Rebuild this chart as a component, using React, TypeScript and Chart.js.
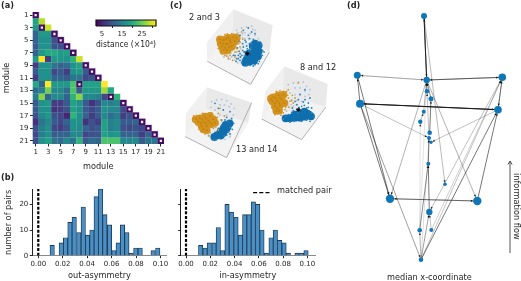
import React, { useEffect, useRef } from "react";
import { Chart, registerables } from "chart.js";

Chart.register(...registerables);
Chart.defaults.font.family = "'DejaVu Sans'";
Chart.defaults.color = "#262626";

/* ---------- (a) distance matrix, lower triangle, ×10^4 ---------- */
const heatRows: number[][] = [
  [1],
  [16, 25],
  [15, 1, 26],
  [9, 15, 15, 1],
  [9, 14, 14, 7, 1],
  [8, 14, 14, 7, 7, 1],
  [9, 15, 17, 17, 15, 16, 1],
  [15, 29, 5, 15, 15, 14, 18, 26],
  [5, 14, 14, 11, 9, 10, 14, 16, 1],
  [8, 14, 14, 6, 8, 5, 14, 15, 8, 1],
  [5, 14, 14, 9, 9, 8, 11, 11, 6, 7, 1],
  [17, 9, 29, 15, 15, 15, 20, 1, 16, 16, 16, 29],
  [10, 12, 22, 13, 13, 10, 20, 8, 15, 15, 15, 24, 17],
  [12, 23, 9, 13, 13, 9, 18, 23, 13, 13, 12, 6, 1, 18],
  [8, 14, 15, 5, 5, 8, 16, 14, 8, 4, 7, 13, 12, 13, 1],
  [8, 14, 14, 4, 5, 7, 16, 14, 8, 6, 8, 14, 13, 13, 6, 1],
  [7, 13, 15, 7, 6, 3, 18, 14, 9, 5, 8, 13, 10, 12, 5, 7, 1],
  [4, 11, 13, 8, 6, 9, 14, 14, 4, 7, 5, 16, 12, 13, 8, 8, 9, 1],
  [7, 12, 14, 6, 5, 7, 14, 13, 9, 7, 8, 16, 12, 13, 7, 6, 7, 6, 1],
  [6, 12, 14, 8, 9, 9, 13, 13, 6, 7, 7, 16, 14, 15, 9, 9, 9, 5, 9, 1],
  [7, 14, 16, 11, 10, 13, 11, 18, 8, 10, 9, 20, 20, 20, 13, 13, 13, 8, 11, 11, 1],
];
const matchedCols = [1, 2, 4, 5, 6, 7, 9, 10, 11, 8, 13, 15, 16, 17, 18, 19, 20, 21];
const matchedRows = [1, 3, 4, 5, 6, 7, 9, 10, 11, 12, 14, 15, 16, 17, 18, 19, 20, 21];
const moduleTicks = [1, 3, 5, 7, 9, 11, 13, 15, 17, 19, 21];
const colorbarTicks = [5, 15, 25];
const colorbarSteps = [2.5, 3.5, 4.5, 5.5, 6.5, 7.5, 8.5, 9.5, 10.5, 11.5, 12.5, 13.5, 14.5, 15.5, 16.5, 17.5, 18.5, 19.5, 20.5, 21.5, 22.5, 23.5, 24.5, 25.5, 26.5, 27.5, 28.5, 29.5, 30.5, 31.5];

/* ---------- (b) histograms ---------- */
const outBins = [0.0114, 0.0188, 0.0223, 0.0259, 0.0294, 0.0332, 0.0368, 0.0403, 0.0439, 0.0474, 0.051, 0.0545, 0.0583, 0.0619, 0.0654, 0.0689, 0.0725, 0.076, 0.0798, 0.0834, 0.094, 0.0978];
const outCounts = [4, 5, 7, 13, 15, 9, 19, 8, 10, 23, 26, 16, 12, 2, 5, 12, 9, 1, 3, 3, 2, 3];
const inBins = [0.0121, 0.0157, 0.0192, 0.0231, 0.0266, 0.0302, 0.0338, 0.0374, 0.0412, 0.0448, 0.0484, 0.0519, 0.0555, 0.0591, 0.0626, 0.0662, 0.0701, 0.0736, 0.0772, 0.0808, 0.0843, 0.0915, 0.0953, 0.0989];
const inCounts = [4, 3, 5, 5, 11, 2, 20, 17, 15, 8, 16, 16, 21, 20, 10, 1, 7, 10, 6, 5, 1, 1, 1, 2];
const asymTicks = [0, 0.02, 0.04, 0.06, 0.08, 0.1];
const countTicks = [0, 10, 20];

/* ---------- (c) embedded point clouds, picture units ---------- */
const cube1 = {
  label: "2 and 3",
  left: [100, 22, 20, 122, 22, 178, 96, 92],
  right: [100, 22, 218, 70, 208, 150, 96, 92],
  floor: [96, 92, 208, 150, 152, 247, 22, 178],
  edge: [22, 178, 152, 247, 208, 150],
  haze: [125, 85, 145, 85, 160, 95, 115, 105, 135, 105, 150, 105, 95, 140, 110, 145, 125, 155, 105, 165, 90, 160, 130, 130, 75, 155, 120, 178],
  grey: [110, 85, 125, 78, 140, 75, 155, 72, 165, 85, 150, 95, 135, 92, 120, 100, 105, 120, 118, 125, 135, 110, 150, 110, 165, 100, 175, 110, 95, 145, 110, 150, 122, 140, 130, 160, 118, 165, 105, 175, 95, 165, 85, 165, 125, 178, 140, 170, 100, 130, 128, 95, 145, 125, 80, 155, 115, 92, 158, 82, 108, 135, 90, 172, 72, 165, 112, 182, 128, 108],
  blueCore: [168, 135, 176, 148, 174, 163, 162, 176, 148, 179, 160, 155, 165, 125, 150, 165, 140, 172, 176, 130, 136, 182, 165, 145, 155, 170, 168, 165, 158, 132, 146, 155],
  blueDots: [150, 125, 140, 132, 128, 145, 120, 155, 115, 170, 128, 172, 125, 182, 148, 110, 160, 112, 172, 118, 183, 128, 188, 145, 187, 160, 178, 178, 165, 188, 150, 190, 135, 160, 142, 140, 135, 115, 120, 100, 130, 85, 145, 78, 155, 90, 118, 118, 128, 125, 112, 138, 105, 160, 132, 150, 118, 148, 138, 120, 152, 137, 108, 178, 145, 100, 165, 95, 145, 150, 125, 160, 155, 125, 180, 120, 192, 150, 175, 185, 160, 192, 140, 190, 115, 160, 122, 165, 110, 170, 100, 160, 135, 150, 148, 143, 120, 175, 130, 135],
  orangeCore: [70, 115, 85, 108, 100, 106, 62, 124, 78, 125, 92, 121, 75, 138, 88, 135, 105, 118, 66, 133, 60, 112, 110, 108, 96, 133, 82, 145, 70, 146, 77, 112, 90, 114, 85, 126, 70, 125],
  orangeDots: [52, 118, 60, 105, 75, 98, 95, 95, 110, 96, 116, 108, 113, 125, 100, 135, 60, 145, 75, 150, 85, 150, 96, 145, 65, 155, 90, 160, 105, 150, 120, 135, 75, 160, 98, 175, 125, 90, 105, 165, 54, 130, 82, 96, 110, 140, 85, 170, 128, 112, 70, 150, 120, 120, 108, 128, 55, 140, 92, 152, 115, 148, 80, 162],
  star: [142, 155],
};
const cube2 = {
  label: "8 and 12",
  left: [88, 25, 32, 98, 20, 183, 82, 105],
  right: [88, 25, 218, 78, 212, 148, 82, 105],
  floor: [82, 105, 212, 148, 140, 245, 20, 183],
  edge: [20, 183, 140, 245, 212, 148],
  haze: [105, 85, 125, 80, 145, 85, 160, 100, 115, 105, 135, 105, 150, 120, 105, 125, 125, 125, 100, 150, 140, 130, 115, 145],
  grey: [100, 80, 115, 75, 130, 72, 145, 72, 155, 85, 165, 95, 150, 100, 135, 90, 120, 90, 105, 105, 120, 110, 135, 108, 150, 115, 162, 110, 110, 125, 125, 128, 140, 130, 100, 145, 115, 145, 95, 160, 110, 160, 128, 140, 92, 130, 108, 140, 80, 172, 96, 172],
  blueCore: [105, 181, 120, 179, 135, 179, 150, 176, 162, 170, 148, 161, 135, 166, 92, 181, 168, 175, 120, 170, 112, 178, 128, 174, 142, 172, 156, 166],
  blueDots: [85, 183, 92, 175, 110, 165, 125, 155, 140, 145, 155, 150, 170, 165, 176, 176, 118, 190, 140, 190, 155, 186, 150, 125, 165, 120, 130, 125, 120, 130, 160, 135, 145, 132, 112, 150, 100, 170, 135, 110, 150, 95, 128, 165, 115, 158, 132, 148, 148, 142, 160, 148, 170, 150, 125, 140, 105, 192, 165, 190],
  orangeCore: [55, 118, 70, 112, 52, 130, 66, 128, 80, 125, 60, 145, 75, 142, 72, 158, 85, 110, 48, 122, 88, 135, 64, 158, 62, 120, 75, 120, 60, 135, 72, 135, 68, 150],
  orangeDots: [42, 120, 45, 135, 50, 148, 60, 170, 78, 172, 92, 148, 100, 120, 105, 130, 90, 155, 95, 100, 110, 128, 130, 75, 100, 95, 90, 125, 85, 165, 98, 112, 64, 100, 45, 112, 102, 148, 120, 120, 112, 112, 75, 98, 98, 138, 115, 135],
  star: [130, 155],
};
const cube3 = {
  label: "13 and 14",
  left: [65, 22, 3, 100, 1, 170, 62, 88],
  right: [65, 22, 200, 68, 190, 128, 62, 88],
  floor: [62, 88, 190, 128, 125, 233, 1, 170],
  edge: [1, 170, 125, 233, 200, 68],
  haze: [95, 75, 115, 70, 130, 85, 140, 105, 110, 100, 125, 115, 95, 110, 85, 150, 100, 135, 130, 165, 75, 165],
  grey: [80, 65, 95, 60, 110, 58, 125, 62, 138, 72, 148, 85, 145, 105, 132, 80, 118, 75, 105, 75, 90, 90, 105, 105, 125, 105, 140, 118, 95, 125, 110, 125, 85, 140, 90, 155, 145, 130, 70, 165, 135, 170, 120, 178, 78, 82, 110, 178, 82, 178],
  blueCore: [122, 135, 115, 146, 106, 156, 96, 166, 124, 148, 134, 130, 88, 171, 108, 166, 115, 158, 128, 140],
  blueDots: [130, 125, 135, 142, 130, 155, 142, 148, 100, 145, 85, 178, 118, 168, 125, 165, 135, 162, 90, 70, 100, 85, 115, 90, 135, 95, 110, 120, 120, 120, 105, 176, 95, 178, 110, 135, 140, 115, 125, 112, 146, 130],
  orangeCore: [45, 115, 60, 110, 75, 108, 40, 125, 55, 125, 70, 122, 85, 118, 50, 138, 65, 138, 80, 132, 65, 150, 32, 118, 90, 128, 55, 148, 52, 118, 65, 116, 48, 130, 62, 130, 75, 128],
  orangeDots: [26, 108, 28, 122, 35, 135, 42, 148, 60, 162, 85, 145, 97, 112, 100, 100, 98, 130, 105, 85, 75, 158, 35, 106, 80, 98, 52, 100, 100, 150, 72, 168, 118, 108, 92, 142, 108, 120],
  star: [],
};

/* ---------- (d) network, reference pixels ---------- */
const nodeX = [424, 357.3, 426.7, 502.3, 427, 431, 360, 498, 423.7, 420.3, 429.7, 429, 431, 428.3, 445, 390, 477.3, 429.3, 419.7, 431.3, 421];
const nodeY = [16, 75.3, 80, 77.3, 91.3, 98.7, 103.7, 109.7, 111.7, 121.7, 132.7, 138, 142.3, 163.7, 184.3, 198.7, 201, 212, 230.3, 230, 259.7];
const nodeSize = [3, 3.5, 3.2, 3.8, 2.3, 2.5, 4, 3.8, 2, 2.2, 2.3, 2, 1.7, 2, 1.8, 4.2, 4.2, 3.2, 2.3, 2, 2.3];
const edgeFrom = [3, 1, 3, 4, 7, 8, 7, 2, 3, 2, 7, 16, 17, 8, 4, 17, 21, 21, 4, 7, 3, 3, 1, 7, 8, 19, 19, 19, 18, 14, 21, 20, 11, 5, 6, 10, 9, 21, 20, 21, 12];
const edgeTo = [1, 3, 4, 3, 8, 7, 2, 3, 2, 16, 16, 17, 16, 4, 8, 8, 8, 4, 18, 21, 16, 17, 15, 12, 13, 3, 10, 14, 14, 12, 18, 18, 6, 3, 3, 9, 3, 19, 4, 12, 5];
const edgeWeight = [0.9, 0.9, 0.7, 0.4, 1, 1, 0.7, 0.25, 0.2, 0.7, 0.7, 0.6, 0.4, 0.6, 0.4, 0.7, 0.7, 0.3, 0.3, 0.5, 0.4, 0.4, 0.35, 0.3, 0.3, 0.05, 0.05, 0.6, 0.7, 0.7, 0.5, 0.3, 0.7, 0.7, 0.6, 0.4, 0.4, 0.4, 0.2, 0.1, 0.3];
const flowArrowX = [510, 510];
const flowArrowY = [253, 161];
const flowHeadX = [508, 510, 512];
const flowHeadY = [164.5, 161, 164.5];

/* ---------- helpers ---------- */
const VIRIDIS = ["#440154", "#482475", "#414487", "#355f8d", "#2a788e", "#21918c", "#22a884", "#44bf70", "#7ad151", "#bddf26", "#fde725"];
function viridis(t: number) {
  const c = Math.max(0, Math.min(1, t)) * (VIRIDIS.length - 1);
  const i = Math.min(Math.floor(c), VIRIDIS.length - 2);
  const f = c - i;
  const p = (h: string, k: number) => parseInt(h.slice(1 + k * 2, 3 + k * 2), 16);
  const mix = [0, 1, 2].map((k) => Math.round(p(VIRIDIS[i], k) * (1 - f) + p(VIRIDIS[i + 1], k) * f));
  return `rgb(${mix.join(",")})`;
}
const pairs = (a: number[]) => {
  const out: { x: number; y: number }[] = [];
  for (let i = 0; i + 1 < a.length; i += 2) out.push({ x: a[i], y: a[i + 1] });
  return out;
};
const fixedTicks = (vals: number[]) => (s: any) => {
  s.ticks = vals.map((value) => ({ value }));
};
const TICK = 7;
const LABEL = 8.2;

function ChartBox({ x, y, w, h, config }: { x: number; y: number; w: number; h: number; config: any }) {
  const ref = useRef<HTMLCanvasElement>(null);
  useEffect(() => {
    const chart = new Chart(ref.current as HTMLCanvasElement, config);
    return () => chart.destroy();
  }, []);
  return <canvas ref={ref} width={w} height={h} style={{ position: "absolute", left: x, top: y, width: w, height: h }} />;
}

const base = { responsive: false, maintainAspectRatio: false, animation: false as const };
const noPlugins = { legend: { display: false }, tooltip: { enabled: false } };

/* ---------- (a) ---------- */
const cells: any[] = [];
heatRows.forEach((row, r) => row.forEach((v, c) => cells.push({ x: c + 1, y: r + 1, v })));
const heatConfig = {
  type: "scatter",
  data: {
    datasets: [
      {
        data: matchedCols.map((x, i) => ({ x, y: matchedRows[i] })),
        pointStyle: "rect",
        pointRadius: 1.6,
        pointBorderWidth: 0,
        backgroundColor: "#f4f0f8",
        order: 0,
      },
      {
        data: cells,
        pointStyle: "rect",
        pointRadius: 6.4 / Math.SQRT2,
        pointBorderWidth: 0,
        backgroundColor: cells.map((d) => viridis(d.v / 28)),
        order: 1,
      },
      {
        data: matchedCols.map((x, i) => ({ x, y: matchedRows[i] })).filter((d) => d.x === d.y),
        pointStyle: "rect",
        pointRadius: 7.6 / Math.SQRT2,
        pointBorderWidth: 0,
        backgroundColor: "#cdbfdc",
        order: 2,
      },
    ],
  },
  options: {
    ...base,
    layout: { autoPadding: false, padding: { top: 12, right: 6 } },
    plugins: noPlugins,
    scales: {
      x: {
        type: "linear", min: 0.5, max: 21.5,
        afterBuildTicks: fixedTicks(moduleTicks),
        afterFit: (s: any) => { s.height = 28; },
        grid: { display: true, drawOnChartArea: false, tickLength: 2.5, tickColor: "#262626" },
        border: { display: false },
        ticks: { font: { size: TICK }, padding: 1.5, maxRotation: 0, autoSkip: false, callback: (v: number) => String(v) },
        title: { display: true, text: "module", font: { size: LABEL }, padding: 0 },
      },
      y: {
        type: "linear", reverse: true, min: 0.5, max: 21.5,
        afterBuildTicks: fixedTicks(moduleTicks),
        afterFit: (s: any) => { s.width = 32.5; },
        grid: { display: true, drawOnChartArea: false, tickLength: 2.5, tickColor: "#262626" },
        border: { display: false },
        ticks: { font: { size: TICK }, padding: 1.5, autoSkip: false, callback: (v: number) => String(v) },
        title: { display: true, text: "module", font: { size: LABEL }, padding: { top: 2, bottom: 0 } },
      },
    },
  },
};

const colorbarConfig = {
  type: "bar",
  data: {
    datasets: [
      {
        type: "line",
        data: [{ x: 2, y: 0 }, { x: 32, y: 0 }, { x: 32, y: 1 }, { x: 2, y: 1 }, { x: 2, y: 0 }],
        borderColor: "#111",
        borderWidth: 1.2,
        pointRadius: 0,
        clip: false,
        order: 0,
      },
      {
        data: colorbarSteps.map((x) => ({ x, y: 1 })),
        backgroundColor: colorbarSteps.map((x) => viridis((x - 2) / 30)),
        barThickness: 2.4,
        order: 1,
      },
    ],
  },
  options: {
    ...base,
    layout: { autoPadding: false, padding: { left: 6, right: 9, top: 6 } },
    plugins: noPlugins,
    scales: {
      x: {
        type: "linear", min: 2, max: 32, offset: false,
        afterBuildTicks: fixedTicks(colorbarTicks),
        afterFit: (s: any) => { s.height = 24; },
        grid: { display: true, drawOnChartArea: false, tickLength: 2, tickColor: "#262626" },
        border: { display: false },
        ticks: { font: { size: TICK }, padding: 1.5, maxRotation: 0, callback: (v: number) => String(v) },
        title: { display: true, text: "distance (×10⁴)", font: { size: LABEL }, padding: 0 },
      },
      y: { display: false, min: 0, max: 1 },
    },
  },
};

/* ---------- (b) ---------- */
function histConfig(bins: number[], counts: number[], opts: any) {
  const datasets: any[] = [
    {
      type: "line",
      label: "matched pair",
      data: [{ x: 0, y: 0 }, { x: 0, y: 26 }],
      borderColor: "#000",
      borderWidth: 2.2,
      borderDash: [3, 1.6],
      pointRadius: 0,
      order: 0,
    },
    {
      data: bins.map((x, i) => ({ x, y: counts[i] })),
      backgroundColor: "#4a90c6",
      borderColor: "#1d3a52",
      borderWidth: { left: 0.9, right: 0.9, top: 0.9, bottom: 0 },
      barThickness: 4.4,
      grouped: false,
      order: 1,
    },
  ];
  if (opts.key) {
    datasets.push({
      type: "line",
      data: [{ x: opts.key[0], y: opts.key[2] }, { x: opts.key[1], y: opts.key[2] }],
      borderColor: "#000",
      borderWidth: 1.2,
      borderDash: [4, 2.2],
      pointRadius: 0,
      clip: false,
      order: 0,
    });
  }
  return {
    type: "bar",
    data: { datasets },
    options: {
      ...base,
      layout: { autoPadding: false, padding: { top: opts.top, right: opts.right } },
      plugins: noPlugins,
      scales: {
        x: {
          type: "linear", min: opts.xMin, max: opts.xMax, offset: false,
          afterBuildTicks: fixedTicks(asymTicks),
          afterFit: (s: any) => { s.height = 25.3; },
          grid: { display: true, drawOnChartArea: false, offset: false, tickLength: 2.5, tickColor: "#262626" },
          border: { color: "#8a8a8a", width: 1 },
          ticks: { font: { size: TICK }, padding: 1.5, maxRotation: 0, autoSkip: false, callback: (v: number) => v.toFixed(2) },
          title: { display: true, text: opts.xTitle, font: { size: LABEL }, padding: 0 },
        },
        y: {
          type: "linear", min: 0, max: 26,
          afterBuildTicks: fixedTicks(countTicks),
          afterFit: (s: any) => { s.width = opts.yWidth; },
          grid: { display: true, drawOnChartArea: false, tickLength: 2.5, tickColor: "#262626" },
          border: { color: "#222", width: 1 },
          ticks: { font: { size: TICK }, padding: 1.5, callback: (v: number) => (opts.yLabels ? String(v) : "") },
          title: opts.yTitle
            ? { display: true, text: opts.yTitle, font: { size: LABEL }, padding: { top: 4, bottom: 0 } }
            : { display: false },
        },
      },
    },
  };
}

/* ---------- (c) ---------- */
function cubeConfig(cube: any) {
  const pane = (pts: number[], color: string, order: number) => ({
    type: "line",
    data: pairs(pts.concat(pts.slice(0, 2))),
    borderWidth: 0,
    borderColor: color,
    backgroundColor: color,
    fill: "shape",
    pointRadius: 0,
    order,
  });
  const dots = (pts: number[], color: string, r: number, order: number) => ({
    data: pairs(pts),
    backgroundColor: color,
    pointRadius: r,
    pointBorderWidth: 0,
    showLine: false,
    order,
  });
  return {
    type: "scatter",
    data: {
      datasets: [
        { data: pairs(cube.star), pointStyle: "star", pointRadius: 2.2, borderColor: "#000", borderWidth: 0.9, showLine: false, order: 0 },
        dots(cube.orangeDots, "#d69a2e", 0.9, 1),
        dots(cube.blueDots, "#2a84bc", 0.9, 2),
        dots(cube.orangeCore, "#c2820f", 1, 2.5),
        dots(cube.orangeCore, "#d2921c", 3.9, 3),
        dots(cube.blueCore, "#0f6fae", 3.9, 4),
        dots(cube.grey, "#b4c3d0", 0.9, 5),
        dots(cube.haze, "#e7e9ec", 3.6, 5.5),
        { type: "line", data: pairs(cube.edge), borderColor: "#a0a0a0", borderWidth: 0.8, pointRadius: 0, order: 6 },
        pane(cube.left, "#f0f0f0", 7),
        pane(cube.right, "#e9e9e9", 8),
        pane(cube.floor, "#f3f3f3", 9),
      ],
    },
    options: {
      ...base,
      plugins: noPlugins,
      layout: { autoPadding: false, padding: 0 },
      scales: {
        x: { type: "linear", display: false, min: 0, max: 270 },
        y: { type: "linear", display: false, reverse: true, min: 0, max: 255 },
      },
    },
  };
}

/* ---------- (d) ---------- */
const arrowHeads = edgeFrom.map((f, i) => {
  const a = f - 1;
  const b = edgeTo[i] - 1;
  const dx = nodeX[b] - nodeX[a];
  const dy = nodeY[b] - nodeY[a];
  const len = Math.hypot(dx, dy) || 1;
  const back = nodeSize[b] + 1.6;
  return {
    x: nodeX[b] - (dx / len) * back,
    y: nodeY[b] - (dy / len) * back,
    rot: (Math.atan2(dx, -dy) * 180) / Math.PI,
  };
});
const networkConfig = {
  type: "scatter",
  data: {
    datasets: [
      {
        data: nodeX.map((x, i) => ({ x, y: nodeY[i] })),
        backgroundColor: "#0f77b8",
        pointRadius: nodeSize,
        pointBorderWidth: 0,
        showLine: false,
        order: 0,
      },
      {
        data: arrowHeads.map((p) => ({ x: p.x, y: p.y })),
        pointStyle: "triangle",
        pointRotation: arrowHeads.map((p) => p.rot),
        pointRadius: 1.3,
        backgroundColor: "#111",
        borderColor: "#111",
        pointBorderWidth: 0,
        showLine: false,
        order: 1,
      },
      {
        type: "line",
        data: flowArrowX.map((x, i) => ({ x, y: flowArrowY[i] })),
        borderColor: "#555",
        borderWidth: 1,
        pointRadius: 0,
        order: 2,
      },
      {
        type: "line",
        data: flowHeadX.map((x, i) => ({ x, y: flowHeadY[i] })),
        borderColor: "#333",
        borderWidth: 0.9,
        pointRadius: 0,
        order: 2,
      },
      ...edgeFrom.map((f, i) => ({
        type: "line",
        data: [
          { x: nodeX[f - 1], y: nodeY[f - 1] },
          { x: nodeX[edgeTo[i] - 1], y: nodeY[edgeTo[i] - 1] },
        ],
        borderColor: `rgba(20,20,20,${0.2 + edgeWeight[i] * 0.72})`,
        borderWidth: 0.5 + edgeWeight[i] * 0.45,
        pointRadius: 0,
        order: 3 + (1 - edgeWeight[i]),
      })),
    ],
  },
  options: {
    ...base,
    plugins: noPlugins,
    layout: { autoPadding: false, padding: 0 },
    scales: {
      x: { type: "linear", display: false, min: 340, max: 521 },
      y: { type: "linear", display: false, reverse: true, min: 0, max: 281 },
    },
  },
};

const textBase: React.CSSProperties = {
  position: "absolute",
  fontFamily: "'DejaVu Sans'",
  color: "#262626",
  whiteSpace: "nowrap",
  lineHeight: 1,
};
function Txt({ x, y, size = 8.2, bold, rot, children }: any) {
  return (
    <div
      style={{
        ...textBase,
        left: x,
        top: y,
        fontSize: size,
        fontWeight: bold ? 700 : 400,
        transform: rot ? `rotate(${rot}deg)` : undefined,
        transformOrigin: "0 0",
      }}
    >
      {children}
    </div>
  );
}

export default function App() {
  return (
    <div style={{ position: "fixed", left: 0, top: 0, width: 521, height: 281, background: "#fff", overflow: "hidden" }}>
      <ChartBox x={0} y={0} w={170} h={172} config={heatConfig} />
      <ChartBox x={90} y={14} w={75} h={36} config={colorbarConfig} />
      <ChartBox x={0} y={180} w={180} h={101} config={histConfig(outBins, outCounts, { top: 9, right: 13.3, xMin: -0.0049, xMax: 0.1051, xTitle: "out-asymmetry", yTitle: "number of pairs", yWidth: 32.3, yLabels: true })} />
      <ChartBox x={170} y={180} w={170} h={101} config={histConfig(inBins, inCounts, { top: 9, right: 25, xMin: -0.00437, xMax: 0.1063, xTitle: "in-asymmetry", yWidth: 10.7, yLabels: false, key: [0.0553, 0.0693, 24.6] })} />
      <ChartBox x={200} y={2} w={90} h={85} config={cubeConfig(cube1)} />
      <ChartBox x={255} y={58} w={90} h={85} config={cubeConfig(cube2)} />
      <ChartBox x={185} y={80} w={90} h={85} config={cubeConfig(cube3)} />
      <ChartBox x={340} y={0} w={181} h={281} config={networkConfig} />
      <Txt x={1} y={1} bold>(a)</Txt>
      <Txt x={1} y={173} bold>(b)</Txt>
      <Txt x={170} y={1} bold>(c)</Txt>
      <Txt x={347} y={1} bold>(d)</Txt>
      <Txt x={189} y={13}>{cube1.label}</Txt>
      <Txt x={300} y={63}>{cube2.label}</Txt>
      <Txt x={236} y={145}>{cube3.label}</Txt>
      <Txt x={277} y={186}>matched pair</Txt>
      <Txt x={387} y={273}>median x-coordinate</Txt>
      <Txt x={521} y={173} rot={90}>information flow</Txt>
    </div>
  );
}
